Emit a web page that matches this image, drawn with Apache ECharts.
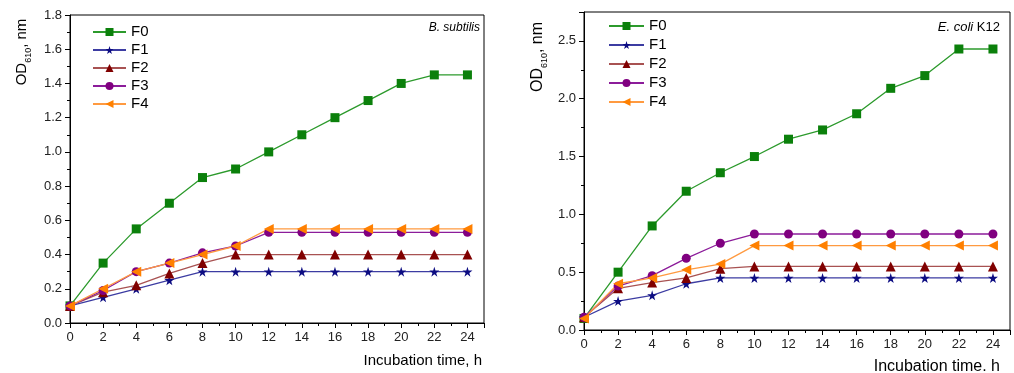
<!DOCTYPE html>
<html><head><meta charset="utf-8">
<script src="https://cdn.jsdelivr.net/npm/echarts@6/dist/echarts.min.js"></script>
<style>html,body{margin:0;padding:0;background:#fff}#c{width:1014px;height:373px}</style>
</head><body><div id="c"></div>
<script>
// ---- data ----
const hours = [0, 2, 4, 6, 8, 10, 12, 14, 16, 18, 20, 22, 24];
const seriesNames = ['F0', 'F1', 'F2', 'F3', 'F4'];
// B. subtilis
const bsF0 = [0.10, 0.35, 0.55, 0.70, 0.85, 0.90, 1.00, 1.10, 1.20, 1.30, 1.40, 1.45, 1.45];
const bsF1 = [0.10, 0.15, 0.20, 0.25, 0.30, 0.30, 0.30, 0.30, 0.30, 0.30, 0.30, 0.30, 0.30];
const bsF2 = [0.10, 0.18, 0.22, 0.29, 0.35, 0.40, 0.40, 0.40, 0.40, 0.40, 0.40, 0.40, 0.40];
const bsF3 = [0.10, 0.19, 0.30, 0.35, 0.41, 0.45, 0.53, 0.53, 0.53, 0.53, 0.53, 0.53, 0.53];
const bsF4 = [0.10, 0.20, 0.30, 0.35, 0.40, 0.45, 0.55, 0.55, 0.55, 0.55, 0.55, 0.55, 0.55];
// E. coli K12
const ecF0 = [0.10, 0.50, 0.90, 1.20, 1.36, 1.50, 1.65, 1.73, 1.87, 2.09, 2.20, 2.43, 2.43];
const ecF1 = [0.11, 0.25, 0.30, 0.40, 0.45, 0.45, 0.45, 0.45, 0.45, 0.45, 0.45, 0.45, 0.45];
const ecF2 = [0.11, 0.36, 0.41, 0.45, 0.53, 0.55, 0.55, 0.55, 0.55, 0.55, 0.55, 0.55, 0.55];
const ecF3 = [0.11, 0.38, 0.47, 0.62, 0.75, 0.83, 0.83, 0.83, 0.83, 0.83, 0.83, 0.83, 0.83];
const ecF4 = [0.10, 0.40, 0.45, 0.52, 0.57, 0.73, 0.73, 0.73, 0.73, 0.73, 0.73, 0.73, 0.73];
// axis ranges / labels
const xRange = { min: 0, max: 25, interval: 2 };
const yLeftRange = { min: 0, max: 1.8, interval: 0.2 };
const yRightRange = { min: 0, max: 2.75, interval: 0.5 };
const xTitleLeft = 'Incubation time, h';
const xTitleRight = 'Incubation time. h';
const yTitle = 'OD{s|610}, nm';

// ---- styles ----
const FONT = 'Liberation Sans, Arial, sans-serif';
const STAR = 'path://M50,0 L61,35 L98,35 L68,57 L79,91 L50,70 L21,91 L32,57 L2,35 L39,35 Z';
const styles = {
  F0: { line: '#2c9a2c', mark: '#0b800b', symbol: 'rect', size: 9, rot: 0 },
  F1: { line: '#3c3ca2', mark: '#0c0c82', symbol: STAR, size: 10, rot: 0 },
  F2: { line: '#a85252', mark: '#800000', symbol: 'triangle', size: 10, rot: 0 },
  F3: { line: '#8c1c9a', mark: '#800080', symbol: 'circle', size: 9, rot: 0 },
  F4: { line: '#ff9a40', mark: '#ff8000', symbol: 'triangle', size: 10, rot: 90 }
};

function mk(name, vals, idx) {
  const s = styles[name];
  return {
    name: name, type: 'line', xAxisIndex: idx, yAxisIndex: idx,
    data: hours.map((h, i) => [h, vals[i]]),
    symbol: s.symbol, symbolSize: s.size, symbolRotate: s.rot,
    showAllSymbol: true,
    lineStyle: { color: s.line, width: 1.3 },
    itemStyle: { color: s.mark, borderWidth: 0 },
    emphasis: { disabled: true },
    animation: false
  };
}

function xAxisCfg(gi) {
  return {
    type: 'value', gridIndex: gi, min: xRange.min, max: xRange.max, interval: xRange.interval,
    axisLine: { show: true, lineStyle: { color: '#000', width: 1 } },
    axisTick: { show: true, inside: false, length: 5, lineStyle: { color: '#000' } },
    minorTick: { show: true, splitNumber: 2, length: 3, lineStyle: { color: '#000' } },
    splitLine: { show: false },
    axisLabel: { color: '#222', fontFamily: FONT, fontSize: 13, margin: 8, showMaxLabel: false,
      formatter: v => (v % 2 === 0 && v <= 24) ? String(v) : '' }
  };
}
function yAxisCfg(gi, r, dec) {
  return {
    type: 'value', gridIndex: gi, min: r.min, max: r.max, interval: r.interval,
    axisLine: { show: true, lineStyle: { color: '#000', width: 1 } },
    axisTick: { show: true, inside: false, length: 5, lineStyle: { color: '#000' } },
    minorTick: { show: true, splitNumber: 2, length: 3, lineStyle: { color: '#000' } },
    splitLine: { show: false },
    axisLabel: { color: '#222', fontFamily: FONT, fontSize: 13, margin: 8,
      formatter: v => {
        const k = Math.round(v / r.interval * 1000) / 1000;
        return Number.isInteger(k) ? v.toFixed(dec) : '';
      } }
  };
}

const option = {
  animation: false,
  backgroundColor: '#fff',
  textStyle: { fontFamily: FONT },
  grid: [
    { left: 70, right: 530, top: 15, bottom: 50, show: true, borderColor: '#000', borderWidth: 1, containLabel: false },
    { left: 584, right: 4, top: 12, bottom: 43, show: true, borderColor: '#000', borderWidth: 1, containLabel: false }
  ],
  xAxis: [xAxisCfg(0), xAxisCfg(1)],
  yAxis: [yAxisCfg(0, yLeftRange, 1), yAxisCfg(1, yRightRange, 1)],
  legend: [
    { data: seriesNames, orient: 'vertical', left: 87, top: 19, itemWidth: 33, itemHeight: 10, itemGap: 2,
      textStyle: { fontFamily: FONT, fontSize: 15, color: '#000', lineHeight: 16 }, selectedMode: false },
    { data: seriesNames, orient: 'vertical', left: 603, top: 13, itemWidth: 35, itemHeight: 10, itemGap: 3,
      textStyle: { fontFamily: FONT, fontSize: 15, color: '#000', lineHeight: 16 }, selectedMode: false }
  ],
  series: [
    mk('F0', bsF0, 0), mk('F1', bsF1, 0), mk('F2', bsF2, 0), mk('F3', bsF3, 0), mk('F4', bsF4, 0),
    mk('F0', ecF0, 1), mk('F1', ecF1, 1), mk('F2', ecF2, 1), mk('F3', ecF3, 1), mk('F4', ecF4, 1)
  ],
  graphic: [
    { type: 'text', x: 22, y: 52, rotation: Math.PI / 2,
      style: { text: yTitle, fontFamily: FONT, fontSize: 15, fill: '#000', align: 'center', verticalAlign: 'middle',
        rich: { s: { fontSize: 9, fontFamily: FONT, fill: '#000', verticalAlign: 'bottom', lineHeight: 22 } } } },
    { type: 'text', x: 538, y: 57, rotation: Math.PI / 2,
      style: { text: yTitle, fontFamily: FONT, fontSize: 16, fill: '#000', align: 'center', verticalAlign: 'middle',
        rich: { s: { fontSize: 9, fontFamily: FONT, fill: '#000', verticalAlign: 'bottom', lineHeight: 22 } } } },
    { type: 'text', x: 482, y: 361,
      style: { text: xTitleLeft, fontFamily: FONT, fontSize: 15, fill: '#000', align: 'right', verticalAlign: 'middle' } },
    { type: 'text', x: 1000, y: 367,
      style: { text: xTitleRight, fontFamily: FONT, fontSize: 16, fill: '#000', align: 'right', verticalAlign: 'middle' } },
    { type: 'text', x: 480, y: 28,
      style: { text: 'B. subtilis', fontFamily: FONT, fontSize: 12, fontStyle: 'italic', fill: '#000', align: 'right', verticalAlign: 'middle' } },
    { type: 'text', x: 1000, y: 27,
      style: { text: '{i|E. coli} K12', fontFamily: FONT, fontSize: 13, fill: '#000', align: 'right', verticalAlign: 'middle',
        rich: { i: { fontStyle: 'italic', fontFamily: FONT, fontSize: 13, fill: '#000' } } } }
  ]
};

const chart = echarts.init(document.getElementById('c'), null, { renderer: 'canvas' });
chart.setOption(option);
</script>
</body></html>
